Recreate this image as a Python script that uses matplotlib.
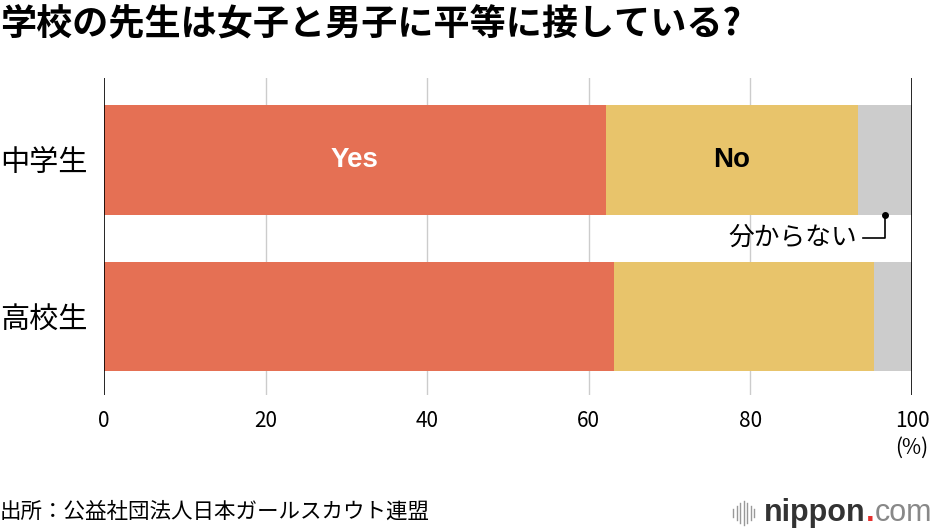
import matplotlib
matplotlib.use("Agg")
import matplotlib.pyplot as plt

plt.rcParams['font.family'] = ['Noto Sans CJK JP', 'DejaVu Sans']

# data
groups = ['中学生', '高校生']
yes_vals = [62.1, 63.1]
no_vals = [31.2, 32.2]
dk_vals = [6.7, 4.7]
x_ticks = [0, 20, 40, 60, 80, 100]

c_yes = '#E57054'
c_no = '#E8C46B'
c_dk = '#CCCCCC'

W, H = 934, 532
fig = plt.figure(figsize=(W / 100, H / 100), dpi=100)
ax = fig.add_axes([104 / W, 1 - 395 / H, (912 - 104) / W, (395 - 78) / H])

ypos = list(range(len(groups)))
bh = 0.7
left_no = [a for a in yes_vals]
left_dk = [a + b for a, b in zip(yes_vals, no_vals)]
ax.barh(ypos, yes_vals, height=bh, color=c_yes, zorder=2)
ax.barh(ypos, no_vals, left=left_no, height=bh, color=c_no, zorder=2)
ax.barh(ypos, dk_vals, left=left_dk, height=bh, color=c_dk, zorder=2)

ax.set_xlim(0, 100)
ax.set_ylim(1.5, -0.52)

# grid
for t in x_ticks[1:-1]:
    ax.axvline(t, color='#CCCCCC', lw=1, zorder=1)
for t in (x_ticks[0], x_ticks[-1]):
    ax.axvline(t, color='black', lw=1.2, zorder=3)

for s in ax.spines.values():
    s.set_visible(False)
ax.set_xticks(x_ticks)
ax.set_xticklabels([str(t) for t in x_ticks], fontsize=15)
ax.tick_params(axis='x', length=0, pad=11)
ax.set_yticks(ypos)
ax.set_yticklabels(groups, fontsize=21)
ax.tick_params(axis='y', length=0, pad=12)

# segment labels on first bar
ax.text(yes_vals[0] / 2, 0, 'Yes', color='white', fontsize=20, fontweight='bold',
        ha='center', va='center', family=['Liberation Sans', 'DejaVu Sans'])
ax.text(yes_vals[0] + no_vals[0] / 2, 0, 'No', color='black', fontsize=20, fontweight='bold',
        ha='center', va='center', family=['Liberation Sans', 'DejaVu Sans'])

# 分からない callout
dk_x = 96.7
ax.plot([dk_x], [bh / 2], 'o', color='black', ms=4, zorder=4)
ax.plot([dk_x, dk_x, dk_x - 2.8], [bh / 2, 0.5, 0.5], color='black', lw=1.2, zorder=4,
        clip_on=False)
ax.text(dk_x - 3.5, 0.5, '分からない', fontsize=18.5, ha='right', va='center', zorder=4)

fig.text(912 / W, 1 - 448 / H, '(%)', fontsize=15, ha='center', va='center')

fig.text(0 / W, 1 - 25 / H, '学校の先生は女子と男子に平等に接している?', fontsize=26,
         fontweight='bold', ha='left', va='center')
fig.text(0 / W, 1 - 512 / H, '出所：公益社団法人日本ガールスカウト連盟', fontsize=15.5,
         ha='left', va='center')

# nippon.com logo text
logo_y = 1 - 513 / H
lf = ['Liberation Sans', 'DejaVu Sans']
t_com = fig.text(932 / W, logo_y, 'com', fontsize=22, ha='right', va='center',
                 color='#888888', family=lf)
fig.canvas.draw()
r = fig.canvas.get_renderer()
x0 = t_com.get_window_extent(r).x0
t_dot = fig.text(x0 / W, logo_y, '.', fontsize=22, ha='right', va='center',
                 color='#E5302E', family=lf, fontweight='bold')
x1 = t_dot.get_window_extent(r).x0
t_nip = fig.text(x1 / W, logo_y, 'nippon', fontsize=22, ha='right', va='center',
                 color='#333333', family=lf, fontweight='bold')
x2 = t_nip.get_window_extent(r).x0
# sound-wave mark before the text
bar_h = [8, 14, 20, 24, 20, 14, 8]
for i, h in enumerate(bar_h):
    xx = x2 - 10 - (len(bar_h) - 1 - i) * 3.5
    fig.add_artist(plt.Line2D([xx / W, xx / W], [logo_y - h / 2 / H, logo_y + h / 2 / H],
                              color='#999999', lw=1))

fig.savefig('out.png', dpi=100)
